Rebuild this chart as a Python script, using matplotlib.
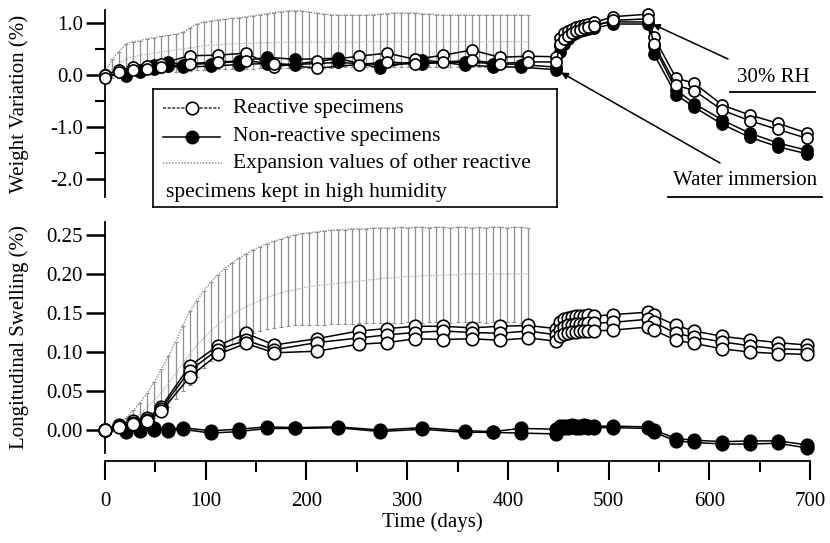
import numpy as np
import matplotlib
matplotlib.use('Agg')
import matplotlib.pyplot as plt
from matplotlib.lines import Line2D
from matplotlib.ticker import MultipleLocator, FormatStrFormatter

plt.rcParams['font.family'] = ['Liberation Serif', 'DejaVu Serif']
plt.rcParams['font.size'] = 15
plt.rcParams['axes.unicode_minus'] = False

# sampling days
t_react = [0, 14, 28, 42, 56, 84, 112, 140, 168, 210, 252, 280, 308, 336, 364, 392, 420, 448,
           452, 456, 460, 464, 468, 472, 476, 480, 486, 504, 539, 545, 567, 585, 613, 640, 668, 697]
t_nonr = [0, 21, 35, 49, 63, 77, 105, 133, 161, 189, 231, 273, 315, 357, 385, 413, 448,
          452, 456, 460, 464, 468, 472, 476, 480, 486, 504, 539, 545, 567, 585, 613, 640, 668, 697]

# weight variation (%)
react_w1 = [0.00, 0.10, 0.15, 0.18, 0.22, 0.37, 0.38, 0.42, 0.16, 0.26, 0.36, 0.42, 0.30, 0.38, 0.48, 0.34, 0.36, 0.35,
            0.72, 0.80, 0.85, 0.88, 0.92, 0.95, 0.97, 0.99, 1.01, 1.12, 1.17, 0.73, -0.06, -0.16, -0.58, -0.77, -0.93, -1.12]
react_w2 = [-0.05, 0.05, 0.10, 0.12, 0.15, 0.22, 0.25, 0.27, 0.22, 0.13, 0.20, 0.25, 0.22, 0.25, 0.28, 0.22, 0.25, 0.25,
            0.60, 0.70, 0.75, 0.80, 0.84, 0.87, 0.90, 0.92, 0.94, 1.05, 1.08, 0.60, -0.20, -0.30, -0.68, -0.88, -1.05, -1.22]
nonr_w1 = [0.00, 0.00, 0.10, 0.20, 0.25, 0.20, 0.22, 0.26, 0.34, 0.30, 0.32, 0.13, 0.29, 0.19, 0.16, 0.15, 0.10,
           0.55, 0.70, 0.78, 0.84, 0.88, 0.91, 0.93, 0.95, 0.97, 1.02, 1.02, 0.55, -0.29, -0.55, -0.87, -1.12, -1.31, -1.45]
nonr_w2 = [0.00, -0.02, 0.05, 0.12, 0.17, 0.15, 0.17, 0.20, 0.22, 0.20, 0.24, 0.20, 0.22, 0.25, 0.22, 0.20, 0.15,
           0.45, 0.60, 0.70, 0.76, 0.80, 0.84, 0.86, 0.88, 0.90, 0.98, 0.98, 0.40, -0.38, -0.62, -0.95, -1.20, -1.38, -1.52]

# longitudinal swelling (%)
react_s1 = [0.000, 0.006, 0.011, 0.015, 0.030, 0.082, 0.108, 0.124, 0.109, 0.117, 0.127, 0.130, 0.133, 0.133, 0.131, 0.133, 0.134, 0.130,
            0.138, 0.142, 0.144, 0.145, 0.146, 0.146, 0.146, 0.147, 0.146, 0.148, 0.151, 0.147, 0.134, 0.127, 0.120, 0.116, 0.112, 0.109]
react_s2 = [0.000, 0.005, 0.009, 0.013, 0.027, 0.076, 0.103, 0.115, 0.103, 0.112, 0.118, 0.122, 0.125, 0.127, 0.125, 0.124, 0.127, 0.122,
            0.128, 0.132, 0.134, 0.135, 0.136, 0.136, 0.136, 0.137, 0.137, 0.138, 0.142, 0.138, 0.124, 0.119, 0.113, 0.108, 0.104, 0.103]
react_s3 = [0.000, 0.004, 0.008, 0.011, 0.024, 0.068, 0.097, 0.111, 0.099, 0.101, 0.110, 0.112, 0.117, 0.116, 0.117, 0.115, 0.118, 0.114,
            0.120, 0.123, 0.125, 0.126, 0.126, 0.127, 0.127, 0.127, 0.127, 0.128, 0.132, 0.128, 0.115, 0.111, 0.104, 0.100, 0.098, 0.097]
nonr_s1 = [0.000, 0.001, 0.002, 0.003, 0.001, 0.003, -0.001, 0.001, 0.004, 0.003, 0.004, 0.000, 0.003, -0.001, -0.002, 0.002, 0.001,
           0.005, 0.005, 0.005, 0.006, 0.005, 0.005, 0.006, 0.005, 0.005, 0.005, 0.004, 0.000, -0.011, -0.013, -0.015, -0.014, -0.014, -0.019]
nonr_s2 = [0.000, -0.002, -0.001, 0.000, -0.001, 0.001, -0.004, -0.002, 0.002, 0.002, 0.003, -0.002, 0.001, -0.003, -0.003, -0.004, -0.005,
           0.003, 0.003, 0.003, 0.004, 0.003, 0.003, 0.004, 0.003, 0.003, 0.003, 0.002, -0.003, -0.014, -0.016, -0.018, -0.018, -0.017, -0.023]

# other reactive specimens in high humidity (range bars, weekly)
t_band = list(range(0, 421, 7))
band_w_hi = [0.05, 0.30, 0.45, 0.60, 0.64, 0.66, 0.70, 0.72, 0.74, 0.76, 0.78, 0.82, 0.90, 0.98, 1.02, 1.04, 1.06, 1.07, 1.09, 1.10,
             1.12, 1.14, 1.16, 1.18, 1.20, 1.22, 1.23, 1.24, 1.23, 1.21, 1.19, 1.17, 1.16, 1.15, 1.15, 1.15, 1.15, 1.15, 1.16, 1.17,
             1.18, 1.19, 1.19, 1.19, 1.19, 1.18, 1.17, 1.16, 1.15, 1.15, 1.15, 1.15, 1.15, 1.15, 1.15, 1.15, 1.15, 1.15, 1.15, 1.15, 1.15]
band_w_lo = [-0.05, -0.05, -0.03, -0.02, 0.00, 0.00, 0.02, 0.03, 0.04, 0.05, 0.06, 0.07, 0.08, 0.09, 0.10, 0.10, 0.11, 0.11, 0.12, 0.12,
             0.12, 0.12, 0.13, 0.13, 0.13, 0.13, 0.13, 0.14, 0.14, 0.14, 0.14, 0.14, 0.14, 0.14, 0.15, 0.15, 0.15, 0.15, 0.15, 0.15,
             0.15, 0.15, 0.15, 0.16, 0.15, 0.15, 0.16, 0.15, 0.15, 0.15, 0.16, 0.15, 0.15, 0.15, 0.16, 0.15, 0.15, 0.15, 0.15, 0.16, 0.15]
band_w_mid = [0.00, 0.12, 0.22, 0.30, 0.35, 0.38, 0.40, 0.42, 0.44, 0.46, 0.48, 0.50, 0.52, 0.54, 0.56, 0.57, 0.58, 0.59, 0.60, 0.60,
              0.61, 0.61, 0.62, 0.62, 0.62, 0.63, 0.63, 0.63, 0.63, 0.63, 0.63, 0.63, 0.63, 0.63, 0.63, 0.63, 0.63, 0.64, 0.64, 0.64,
              0.64, 0.64, 0.64, 0.64, 0.64, 0.64, 0.64, 0.64, 0.64, 0.64, 0.64, 0.64, 0.64, 0.64, 0.64, 0.64, 0.64, 0.64, 0.64, 0.64, 0.64]
band_s_hi = [0.000, 0.005, 0.010, 0.016, 0.025, 0.035, 0.048, 0.062, 0.078, 0.095, 0.113, 0.133, 0.152, 0.166, 0.178, 0.190, 0.199, 0.207,
             0.214, 0.220, 0.226, 0.231, 0.235, 0.239, 0.242, 0.245, 0.248, 0.250, 0.252, 0.253, 0.254, 0.255, 0.256, 0.257, 0.257,
             0.258, 0.258, 0.258, 0.259, 0.259, 0.259, 0.259, 0.260, 0.259, 0.260, 0.260, 0.259, 0.260, 0.260, 0.259, 0.260, 0.260,
             0.259, 0.260, 0.259, 0.260, 0.260, 0.259, 0.260, 0.260, 0.259]
band_s_lo = [0.000, 0.000, 0.001, 0.002, 0.004, 0.007, 0.011, 0.016, 0.022, 0.030, 0.040, 0.050, 0.058, 0.068, 0.079, 0.088, 0.097, 0.104,
             0.110, 0.116, 0.120, 0.124, 0.127, 0.129, 0.131, 0.132, 0.133, 0.134, 0.134, 0.135, 0.135, 0.135, 0.136, 0.136, 0.136,
             0.136, 0.137, 0.137, 0.137, 0.137, 0.137, 0.137, 0.137, 0.138, 0.138, 0.137, 0.138, 0.138, 0.138, 0.137, 0.138, 0.138,
             0.138, 0.138, 0.137, 0.138, 0.138, 0.138, 0.138, 0.137, 0.138]
band_s_mid = [0.000, 0.002, 0.005, 0.009, 0.014, 0.021, 0.029, 0.038, 0.048, 0.060, 0.072, 0.085, 0.097, 0.108, 0.118, 0.127, 0.135, 0.142,
              0.148, 0.153, 0.158, 0.162, 0.166, 0.170, 0.173, 0.176, 0.178, 0.180, 0.182, 0.184, 0.185, 0.186, 0.187, 0.188, 0.189,
              0.190, 0.191, 0.192, 0.193, 0.194, 0.195, 0.195, 0.196, 0.197, 0.197, 0.198, 0.198, 0.198, 0.199, 0.199, 0.199, 0.200,
              0.200, 0.200, 0.200, 0.200, 0.200, 0.200, 0.200, 0.200, 0.200]

W, H = 830, 543
fig = plt.figure(figsize=(8.3, 5.43), dpi=100)
ax1 = fig.add_axes([105 / W, 1 - 197 / H, 705 / W, 187 / H])
ax2 = fig.add_axes([105 / W, 1 - 453 / H, 705 / W, 231 / H])

band_col = '#8f8f8f'


def draw_band(ax, mid, lo, hi):
    mid = np.array(mid)
    ax.errorbar(t_band, mid, yerr=[mid - np.array(lo), np.array(hi) - mid], fmt='none',
                ecolor=band_col, elinewidth=0.9, capsize=1.5, capthick=0.8, zorder=1)
    ax.plot(t_band, mid, color='#b0b0b0', lw=0.9, ls=(0, (1, 1)), zorder=1)
    ax.plot(t_band, hi, color=band_col, lw=1.0, ls=(0, (1, 1)), zorder=1)


def draw_series(ax, t, y, filled, ms):
    ax.plot(t, y, color='k', lw=1.1, marker='o', ms=ms, mec='k', mew=1.2,
            mfc='k' if filled else 'white', clip_on=False, zorder=4 if not filled else 3)


# top panel: weight
draw_band(ax1, band_w_mid, band_w_lo, band_w_hi)
for y in (nonr_w1, nonr_w2):
    draw_series(ax1, t_nonr, y, True, 8)
for y in (react_w1, react_w2):
    draw_series(ax1, t_react, y, False, 8)

# bottom panel: swelling
draw_band(ax2, band_s_mid, band_s_lo, band_s_hi)
for y in (nonr_s1, nonr_s2):
    draw_series(ax2, t_nonr, y, True, 9)
for y in (react_s1, react_s2, react_s3):
    draw_series(ax2, t_react, y, False, 9)

for ax in (ax1, ax2):
    ax.set_xlim(0, 700)
    ax.spines['top'].set_visible(False)
    ax.spines['right'].set_visible(False)
    ax.spines['left'].set_linewidth(1.3)
    ax.tick_params(axis='y', which='major', direction='out', length=14, width=1.8, pad=2)
    ax.tick_params(axis='y', which='minor', direction='out', length=7, width=1.5)

ax1.set_ylim(-2.35, 1.25)
ax1.spines['bottom'].set_visible(False)
ax1.set_xticks([])
ax1.yaxis.set_major_locator(MultipleLocator(1.0))
ax1.yaxis.set_minor_locator(MultipleLocator(0.5))
ax1.yaxis.set_major_formatter(FormatStrFormatter('%.1f'))
ax1.set_ylabel('Weight Variation (%)')
ax1.yaxis.set_label_coords(-0.108, 0.5)

ax2.set_ylim(-0.0295, 0.2667)
ax2.set_yticks([0, 0.05, 0.10, 0.15, 0.20, 0.25])
ax2.yaxis.set_major_formatter(FormatStrFormatter('%.2f'))
ax2.spines['bottom'].set_position(('outward', 6))
ax2.spines['bottom'].set_linewidth(1.3)
ax2.xaxis.set_major_locator(MultipleLocator(100))
ax2.xaxis.set_minor_locator(MultipleLocator(50))
ax2.tick_params(axis='x', which='major', direction='out', length=14, width=1.5, pad=8)
ax2.tick_params(axis='x', which='minor', direction='out', length=8, width=1.5)
ax2.set_ylabel('Longitudinal Swelling (%)')
ax2.yaxis.set_label_coords(-0.108, 0.5)
ax2.set_xlabel('Time (days)')
ax2.xaxis.set_label_coords(0.465, -0.255)

# annotations
ax1.annotate('', xy=(t_nonr[27], nonr_w1[27]), xycoords='data',
             xytext=(728, H - 59), textcoords='figure pixels',
             arrowprops=dict(arrowstyle='-|>', color='k', lw=1.1, mutation_scale=10,
                             shrinkA=0, shrinkB=4))
ax1.annotate('', xy=(t_nonr[16], nonr_w1[16]), xycoords='data',
             xytext=(720, H - 163), textcoords='figure pixels',
             arrowprops=dict(arrowstyle='-|>', color='k', lw=1.1, mutation_scale=10,
                             shrinkA=0, shrinkB=4))
fig.text(773 / W, 1 - 77 / H, '30% RH', ha='center', va='center', fontsize=15)
fig.add_artist(Line2D([730 / W, 815 / W], [1 - 92 / H] * 2, color='k', lw=1.3, transform=fig.transFigure))
fig.text(745 / W, 1 - 181 / H, 'Water immersion', ha='center', va='center', fontsize=15)
fig.add_artist(Line2D([668 / W, 822 / W], [1 - 197 / H] * 2, color='k', lw=1.3, transform=fig.transFigure))

# legend box
lg = fig.add_axes([153 / W, 1 - 207 / H, 404 / W, 118 / H], zorder=5)
lg.set_xlim(0, 404)
lg.set_ylim(118, 0)
lg.set_xticks([])
lg.set_yticks([])
for s in lg.spines.values():
    s.set_linewidth(1.2)
lg.plot([10, 67], [19, 19], color='#333333', lw=1.1, ls=(0, (2, 1)))
lg.plot([39], [19], marker='o', ms=9, mfc='white', mec='k', mew=1.2)
lg.plot([10, 67], [48, 48], color='k', lw=1.1)
lg.plot([39], [48], marker='o', ms=9, mfc='k', mec='k')
lg.plot([10, 69], [74, 74], color=band_col, lw=1.1, ls=(0, (1, 1)))
leg_labels = ['Reactive specimens', 'Non-reactive specimens',
              'Expansion values of other reactive', 'specimens kept in high humidity']
for lab, xx, yy in zip(leg_labels, [80, 80, 80, 13], [19, 48, 74, 103]):
    lg.text(xx, yy, lab, ha='left', va='center', fontsize=15.5)

fig.savefig('out.png', dpi=100)
